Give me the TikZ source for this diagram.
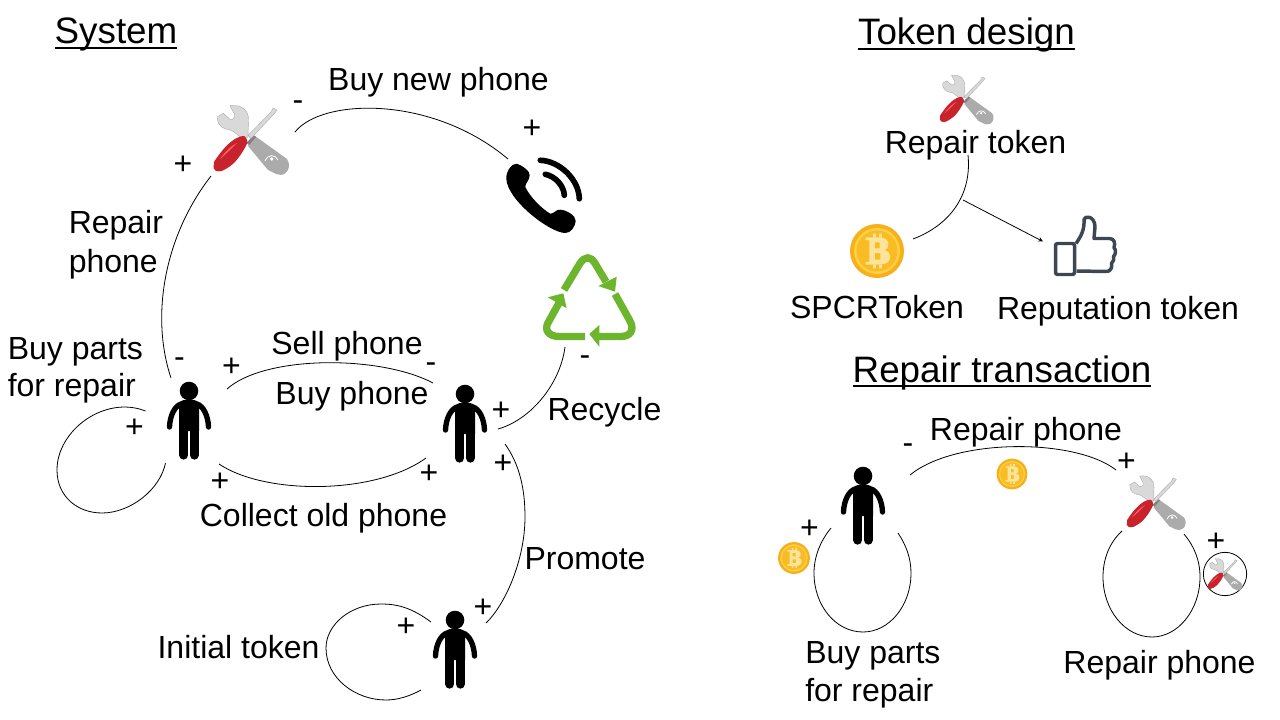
\documentclass[tikz,border=0pt]{standalone}
\usepackage{fontspec}
\setmainfont{Liberation Sans}
\usetikzlibrary{arrows}

\definecolor{toolred}{HTML}{C8232C}
\definecolor{toolgrey}{HTML}{ABABAB}
\definecolor{toollight}{HTML}{D9D9D9}
\definecolor{recyclegreen}{HTML}{6CB52D}
\definecolor{thumbgrey}{HTML}{3D4752}
\definecolor{coinrim}{HTML}{F6B01C}
\definecolor{coinface}{HTML}{FFD045}
\definecolor{coininner}{HTML}{F9BC25}
\definecolor{coinmark}{HTML}{FCE59A}

\newcommand{\headtext}[1]{\sbox0{#1}\rlap{\rule[-4pt]{\wd0}{1.5pt}}\box0}

\tikzset{
    lab/.style={font=\fontsize{24}{29}\selectfont,inner sep=0pt,anchor=base},
    lableft/.style={lab,align=left,anchor=north west},
    heading/.style={font=\fontsize{27.6}{32}\selectfont,inner sep=0pt,anchor=base},
    sign/.style={font=\fontsize{24}{29}\selectfont,inner sep=0pt},
    iconbox/.style={circle,minimum size=30pt,inner sep=0pt},
    link/.style={line width=0.6pt},
    person/.pic={
        \fill (0,-32) circle (9.3);
        \fill (-10,-18) .. controls (-10,-22) and (-6,-23) .. (-4,-23) -- (4,-23)
            .. controls (6,-23) and (10,-22) .. (10,-18) -- (10,8) -- (-10,8) -- cycle;
        \draw[line width=4pt,line cap=round] (-8,-19) .. controls (-14,-17) and (-19,-8) .. (-19.5,4);
        \draw[line width=4pt,line cap=round] (8,-19) .. controls (14,-17) and (19,-8) .. (19.5,4);
        \draw[line width=7pt,line cap=round] (-5.3,5) -- (-5.3,32);
        \draw[line width=7pt,line cap=round] (5.3,5) -- (5.3,32);
    },
    toolicon/.pic={
        % wrench head
        \fill[toollight,draw=toolgrey,line width=0.3pt] (-21,-33.3) .. controls (-8,-35) and (-2,-27) .. (-2.5,-19)
            -- (-3,-2) -- (-7.7,0.5) .. controls (-14,-5) and (-18,-8) .. (-21,-9) .. controls (-27,-10) and (-34,-12) .. (-33.5,-22.3)
            -- (-27.7,-25.7) -- (-21,-19.7) .. controls (-18,-19) and (-15.5,-21) .. (-16.7,-25) -- cycle;
        % lever
        \fill[toolgrey] (-3,7) -- (4,-3) -- (36,20) .. controls (39,24) and (39,31) .. (34,34.5)
            .. controls (31,36.5) and (28,36) .. (25,35) -- (17,31) -- cycle;
        \fill[gray] (-4.5,4) -- (2.5,-4) -- (5,-2) -- (-2,6) -- cycle;
        \draw[white,line width=0.6pt] (14,22) .. controls (17,15) and (24,15) .. (27,21);
        \fill[white] (20.7,20) circle (1.8);
        % screwdriver
        \fill[toollight,draw=toolgrey,line width=0.3pt] (-3,-3.5) -- (20,-27) -- (22,-31) -- (26,-29) -- (23,-25) -- (0,-0.5) -- cycle;
        \fill[toolred] (-37,23) .. controls (-30,12) and (-22,3) .. (-14.3,-1) .. controls (-10,-3) and (-7,-3.5) .. (-6,-2.5)
            .. controls (-3.5,1) and (-3,3) .. (-3.8,4.3) .. controls (-9,15) and (-16,25) .. (-24.5,29.5)
            .. controls (-29,33) and (-36,34) .. (-37.5,29) -- cycle;
        \fill[red!60!white] (-31,20) .. controls (-26,13) and (-20,7) .. (-14,4) .. controls (-19,9) and (-25,15) .. (-31,20) -- cycle;
    },
    phoneicon/.pic={
        \fill (-28,-31.3) .. controls (-22,-29) and (-15,-24) .. (-15.3,-19.7)
            .. controls (-15.5,-14) and (-20,-12) .. (-19.7,-8)
            .. controls (-15,2) and (-3,14) .. (5.3,18.7)
            .. controls (9,19) and (11,14) .. (15.3,14.7)
            .. controls (22,15) and (31,21) .. (30.7,26)
            .. controls (30,32) and (26,38) .. (20.3,38)
            .. controls (5,38) and (-38,5) .. (-38.7,-16.3)
            .. controls (-39,-24) and (-33,-32) .. (-28,-31.3) -- cycle;
        \draw[line width=4.25pt,line cap=round] (-4.7,-34.7) .. controls (15,-34) and (34,-15) .. (34.3,3.7);
        \draw[line width=4.25pt,line cap=round] (0.3,-20.7) .. controls (10,-19) and (19,-9) .. (19.3,0.3);
    },
    recycleicon/.pic={
        \draw[recyclegreen,line width=5.5pt] (-24,-11) -- (-8,-37.7) .. controls (-3,-45) and (2.7,-45) .. (7,-37.7) -- (18,-19.3);
        \fill[recyclegreen] (28.7,-24.3) -- (27,-9.3) -- (10.3,-15) -- cycle;
        \draw[recyclegreen,line width=5.5pt] (27,-7) -- (42,20) .. controls (47,29) and (42,35.5) .. (33,35.5) -- (9,35.5);
        \fill[recyclegreen] (1.3,33) -- (11.3,24) -- (11.3,45.7) -- cycle;
        \draw[recyclegreen,line width=5.5pt] (-3,35.5) -- (-29,35.5) .. controls (-39,35.5) and (-45,29) .. (-39,20) -- (-29,2);
        \fill[recyclegreen] (-24.7,-7.7) -- (-40.3,-3.7) -- (-21.3,7.3) -- cycle;
    },
    thumbicon/.pic={
        \draw[thumbgrey,line width=2.6pt,rounded corners=1.5pt] (-30,-3) rectangle (-11,28);
        \draw[thumbgrey,line width=2.6pt,line join=round] (-9.5,-3) .. controls (-4,-11) and (-1,-17) .. (-1.5,-27)
            .. controls (-1,-31) and (9,-31) .. (9.5,-20) -- (8.5,-8) -- (24,-8)
            .. controls (29,-8) and (30,-3) .. (28.5,1) .. controls (31,4) and (30,8) .. (28,10)
            .. controls (29,12) and (28,15) .. (26,17) .. controls (27,21) and (25,25) .. (21,25) -- (-9,24.5);
    },
    coinicon/.pic={
        \fill[coinrim] (0,0) circle (27);
        \fill[coinface] (0,0) circle (23);
        \fill[coininner] (0,0) circle (20.5);
        \begin{scope}[scale=27]
            \fill[coinmark,even odd rule] (-0.42,-0.5) -- (0.12,-0.5) .. controls (0.5,-0.5) and (0.5,-0.07) .. (0.26,-0.03)
                .. controls (0.58,0) and (0.58,0.5) .. (0.14,0.5) -- (-0.42,0.5) -- (-0.42,0.4) -- (-0.28,0.4) -- (-0.28,-0.4) -- (-0.42,-0.4) -- cycle
                (-0.08,-0.32) rectangle (0.1,-0.1) (-0.08,0.08) rectangle (0.12,0.32);
            \fill[coinmark] (-0.14,-0.64) rectangle (-0.04,-0.5) (0.08,-0.64) rectangle (0.18,-0.5)
                (-0.14,0.5) rectangle (-0.04,0.64) (0.08,0.5) rectangle (0.18,0.64);
        \end{scope}
    },
}

\begin{document}
\begin{tikzpicture}[x=0.75pt,y=-0.75pt,>=stealth]
    \useasboundingbox (0,0) rectangle (1280,720);

    % system
    \node[heading] (system) at (116,44) {\headtext{System}};
    \node[iconbox] (tool) at (251,139) {};
    \node[iconbox] (phone) at (545,195) {};
    \node[iconbox] (recycle) at (588,301) {};
    \node[iconbox] (buyer) at (189,423) {};
    \node[iconbox] (seller) at (465,426) {};
    \node[iconbox] (starter) at (455,652) {};
    \pic at (tool.center) {toolicon};
    \pic at (phone.center) {phoneicon};
    \pic at (recycle.center) {recycleicon};
    \pic at (buyer.center) {person};
    \pic at (seller.center) {person};
    \pic at (starter.center) {person};

    \draw[link] ([shift={(44,-7)}]tool.center) .. controls (322,98) and (432,95) .. ([shift={(-37,-36)}]phone.center);
    \draw[link] ([shift={(-18,-45)}]buyer.center) .. controls (150,315) and (165,235) .. ([shift={(-40,37)}]tool.center);
    \draw[link] ([shift={(38,-34)}]buyer.center) .. controls (265,355) and (380,355) .. ([shift={(-32,-43)}]seller.center);
    \draw[link] ([shift={(30,41)}]buyer.center) .. controls (265,495) and (375,495) .. ([shift={(-39,32)}]seller.center);
    \draw[link] ([shift={(-43.5,-12)}]buyer.center) .. controls (105,395) and (57,430) .. (57,470)
        .. controls (57,497) and (78,513) .. (102,513) .. controls (130,513) and (160,490) .. ([shift={(-23.5,40)}]buyer.center);
    \draw[link] ([shift={(-23,46)}]recycle.center) .. controls (560,385) and (530,420) .. ([shift={(33,3)}]seller.center);
    \draw[link] ([shift={(40,18)}]seller.center) .. controls (520,465) and (525,490) .. (525,517)
        .. controls (525,560) and (505,605) .. ([shift={(31,-29)}]starter.center);
    \draw[link] ([shift={(-24,-30)}]starter.center) .. controls (412,608) and (398,604) .. (381,604)
        .. controls (350,604) and (326,625) .. (326,648) .. controls (326,678) and (355,700) .. (386,700)
        .. controls (398,700) and (410,696) .. ([shift={(-34,38)}]starter.center);

    \node[lab] (buynew) at (438.5,91) {Buy new phone};
    \node[lableft] (repairphone) at (68.5,210) {Repair\\phone};
    \node[lableft] (buyparts) at (7.5,337) {Buy parts\\[-1pt]for repair};
    \node[lab] (sell) at (347,354) {Sell phone};
    \node[lab] (buy) at (352,404) {Buy phone};
    \node[lab] (collect) at (323.5,526.5) {Collect old phone};
    \node[lab] (recyclelab) at (604.5,420) {Recycle};
    \node[lab] (promote) at (585,569) {Promote};
    \node[lab] (initial) at (238.5,658) {Initial token};

    \node[sign] (s1) at (298,105.5) {-};
    \node[sign] (s2) at (532,129) {+};
    \node[sign] (s3) at (183,165.5) {+};
    \node[sign] (s4) at (179.5,363) {-};
    \node[sign] (s5) at (231.5,367.5) {+};
    \node[sign] (s6) at (431,367.5) {-};
    \node[sign] (s7) at (501,411.5) {+};
    \node[sign] (s8) at (134.5,428) {+};
    \node[sign] (s9) at (220,482) {+};
    \node[sign] (s10) at (429,474) {+};
    \node[sign] (s11) at (503,464) {+};
    \node[sign] (s12) at (483,608) {+};
    \node[sign] (s13) at (406,627.5) {+};
    \node[sign] (s14) at (585,361) {-};

    % token design
    \node[heading] (design) at (966.5,45) {\headtext{Token design}};
    \node[iconbox] (rtool) at (966.5,99) {};
    \node[iconbox] (bigcoin) at (877,251) {};
    \node[iconbox] (thumb) at (1085.5,246.5) {};
    \pic[scale=0.71] at (rtool.center) {toolicon};
    \pic at (bigcoin.center) {coinicon};
    \pic at (thumb.center) {thumbicon};
    \node[lab] (rtoken) at (975.5,154) {Repair token};
    \node[lab] (spcr) at (877,318) {SPCRToken};
    \node[lab] (rep) at (1118,319) {Reputation token};
    \coordinate (split) at (963,200);
    \draw[link] ([shift={(1.5,56)}]rtool.center) .. controls (972,195) and (950,225) .. ([shift={(36,-12)}]bigcoin.center);
    \draw[link,->] (split) -- ([shift={(-42.5,-5)}]thumb.center);

    % repair transaction
    \node[heading] (transaction) at (1002,382) {\headtext{Repair transaction}};
    \node[iconbox] (payer) at (863,508) {};
    \node[iconbox] (fixer) at (1156,502) {};
    \node[iconbox] (paycoin) at (1012,474) {};
    \node[iconbox] (partcoin) at (794,558) {};
    \node[circle,draw,line width=0.6pt,minimum size=32.5pt,inner sep=0pt] (stamp) at (1225,574) {};
    \pic at (payer.center) {person};
    \pic[scale=0.78] at (fixer.center) {toolicon};
    \pic[scale=0.46] at (stamp.center) {toolicon};
    \pic[scale=0.57] at (paycoin.center) {coinicon};
    \pic[scale=0.59] at (partcoin.center) {coinicon};

    \draw[link] ([shift={(47,-33)}]payer.center) .. controls (955,438) and (1075,438) .. ([shift={(-40,-32)}]fixer.center);
    \draw[link] ([shift={(-32,20)}]payer.center) .. controls (821,540) and (814,556) .. (814,573)
        .. controls (814,606) and (836,632) .. (863,632) .. controls (889,632) and (911,606) .. (911,573)
        .. controls (911,558) and (906,545) .. ([shift={(35,25)}]payer.center);
    \draw[link] ([shift={(-34,29)}]fixer.center) .. controls (1110,542) and (1103,558) .. (1103,577)
        .. controls (1103,610) and (1125,637) .. (1152,637) .. controls (1178,637) and (1200,610) .. (1200,577)
        .. controls (1200,560) and (1194,546) .. ([shift={(28,32)}]fixer.center);

    \node[lab] (repairtop) at (1026,440) {Repair phone};
    \node[lableft] (partslab) at (805,641) {Buy parts\\for repair};
    \node[lab] (repairlow) at (1159.5,673) {Repair phone};

    \node[sign] (s15) at (908,449) {-};
    \node[sign] (s16) at (1126.5,462) {+};
    \node[sign] (s17) at (809.5,529) {+};
    \node[sign] (s18) at (1216,542) {+};
\end{tikzpicture}
\end{document}
